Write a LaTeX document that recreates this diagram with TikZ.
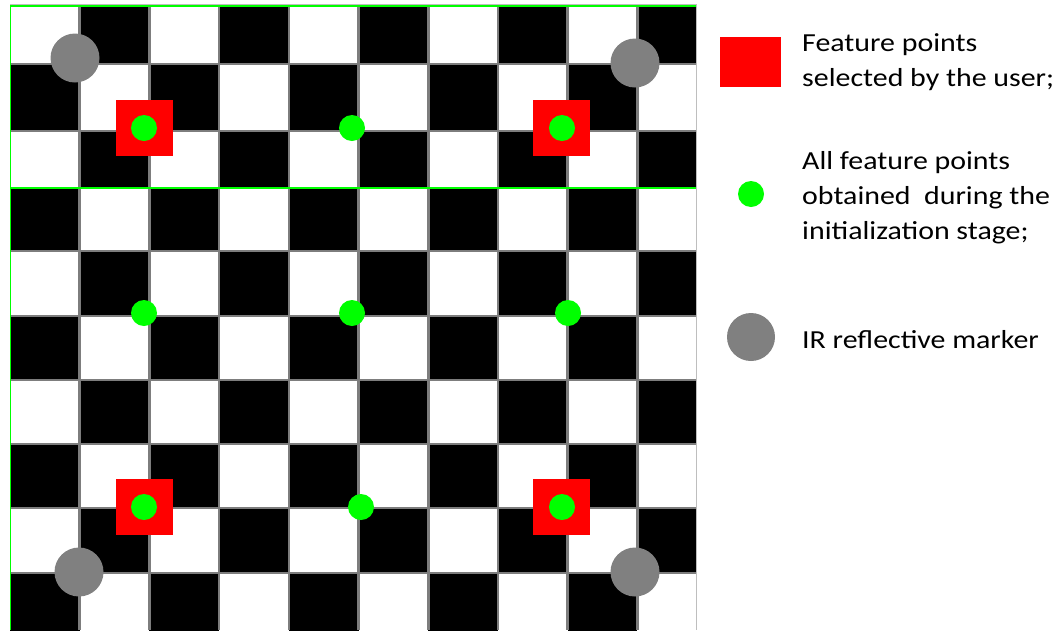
\documentclass[tikz,border=0pt]{standalone}
\usepackage{fontspec}
\setmainfont{Carlito}
\newfontfamily\legfont[FakeStretch=1.15]{Carlito}
\definecolor{irgray}{RGB}{128,128,128}
\definecolor{userred}{RGB}{255,0,0}
\definecolor{featgreen}{RGB}{0,255,0}
\definecolor{gridgray}{RGB}{125,125,125}
\definecolor{edgegray}{RGB}{190,190,190}
\begin{document}
\begin{tikzpicture}[x=1pt,y=-1pt,
  irmark/.style={circle,fill=irgray,draw=none,inner sep=0pt,minimum size=49pt},
  usersq/.style={rectangle,fill=userred,draw=none,inner sep=0pt,minimum width=57pt,minimum height=56pt},
  featdot/.style={circle,fill=featgreen,draw=none,inner sep=0pt,minimum size=26pt},
  gridln/.style={draw=gridgray,line width=2.6pt},
  greenln/.style={draw=featgreen,line width=1.6pt},
  edgeln/.style={draw=edgegray,line width=1.5pt},
  legtext/.style={anchor=base west,inner sep=0pt,align=left,font=\legfont\fontsize{26}{35}\selectfont}
]
\useasboundingbox (0,0) rectangle (1055,630);
\fill[white] (0,0) rectangle (1055,630);
% board
\begin{scope}
\clip (10,6) rectangle (696,630);
\foreach \r/\ya/\yb in {0/6/64,1/64/131,2/131/188,3/188/251,4/251/316,5/316/380,6/380/444,7/444/508,8/508/573,9/573/637}{
  \foreach \c in {0,...,9}{
    \pgfmathtruncatemacro\pty{mod(\r+\c,2)}
    \ifnum\pty=1
      \fill[black] ({10+69.7*\c},\ya) rectangle ({10+69.7*(\c+1)},\yb);
    \fi
  }
}
\foreach \c in {1,...,9}{
  \draw[gridln] ({10+69.7*\c},6) -- ({10+69.7*\c},630);
}
\foreach \y in {64,131,188,251,316,380,444,508,573}{
  \draw[gridln] (10,\y) -- (696,\y);
}
\end{scope}
\draw[edgeln] (10,4.5) -- (697,4.5);
\draw[edgeln] (696.5,4.5) -- (696.5,630);
\draw[greenln] (10,6) -- (696,6);
\draw[greenln] (10,188) -- (696,188);
\draw[greenln] (10.5,6) -- (10.5,630);
% IR markers
\node[irmark] (ir1) at (75,58) {};
\node[irmark] (ir2) at (635,63) {};
\node[irmark] (ir3) at (79,572) {};
\node[irmark] (ir4) at (635,572) {};
% user-selected feature points
\node[usersq] (u1) at (144.5,128) {};
\node[usersq] (u2) at (561.5,128) {};
\node[usersq] (u3) at (144.5,506.5) {};
\node[usersq] (u4) at (561.5,506.5) {};
% feature points
\node[featdot] (f1) at (144,128) {};
\node[featdot] (f2) at (352,128) {};
\node[featdot] (f3) at (562,128) {};
\node[featdot] (f4) at (144,313) {};
\node[featdot] (f5) at (352,313) {};
\node[featdot] (f6) at (568,313) {};
\node[featdot] (f7) at (144,507) {};
\node[featdot] (f8) at (361,507) {};
\node[featdot] (f9) at (562,507) {};
% legend
\node[usersq,minimum width=61pt,minimum height=50pt] (lu) at (750.5,62) {};
\node[featdot] (lf) at (751,194) {};
\node[irmark,minimum size=48pt] (li) at (751,337) {};
\node[legtext] (t1) at (802,86.7) {Feature points\\selected by the user;};
\node[legtext] (t2) at (802,239) {All feature points\\obtained\ \ during the\\initialization stage;};
\node[legtext] (t3) at (802,348.3) {IR reflective marker};
\end{tikzpicture}
\end{document}
